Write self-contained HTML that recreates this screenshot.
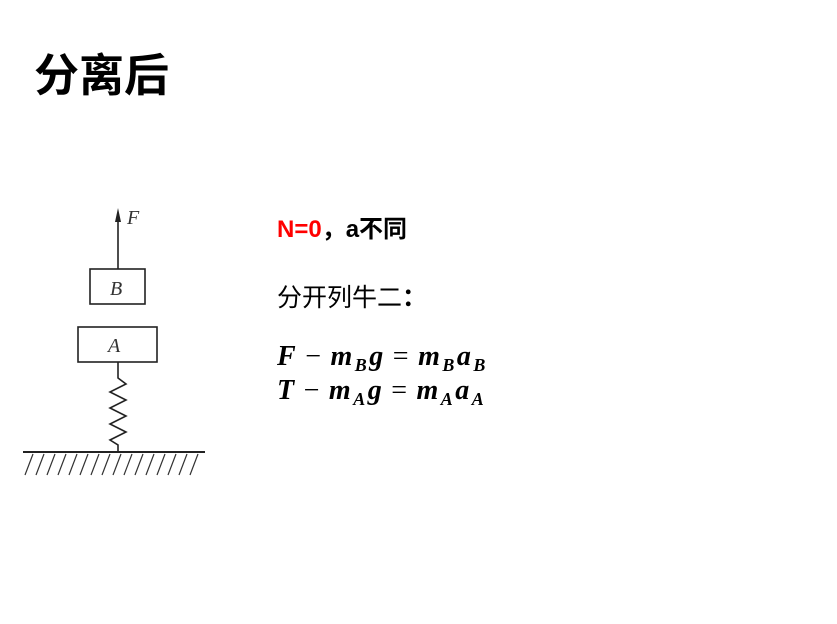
<!DOCTYPE html>
<html><head><meta charset="utf-8"><style>
body{margin:0;width:837px;height:624px;background:#fff;position:relative;overflow:hidden;font-family:"Liberation Sans","Noto Sans CJK SC",sans-serif}
.t{position:absolute;white-space:nowrap;color:#000}
.eq{font-family:"Liberation Serif","DejaVu Serif",serif;font-weight:bold;font-style:italic;font-size:28px;letter-spacing:2.5px}
.eq sub{font-size:18px;vertical-align:-6px}
.eq .n{font-style:normal;font-weight:normal;padding:0 7px}
</style></head><body>
<div class="t" style="left:34px;top:39px;font-size:45px;font-weight:bold;font-family:'Noto Sans CJK SC',sans-serif">分离后</div>
<svg style="position:absolute;left:0;top:0" width="837" height="624">
<g stroke="#222" fill="none" stroke-width="1.6">
<line x1="118" y1="269" x2="118" y2="216"/>
<rect x="90" y="269" width="55" height="35"/>
<rect x="78" y="327" width="79" height="35"/>
<polyline points="118,362 118,378 126,384 110,392 126,400 110,408 126,416 110,424 126,432 110,440 118,445 118,452"/>
<line x1="23" y1="452" x2="205" y2="452" stroke-width="2"/>
</g>
<polygon points="118,208 115,222 121,222" fill="#222"/>
<g font-family="Liberation Serif,serif" font-style="italic" font-size="20" fill="#333">
<text x="127" y="224">F</text><text x="110" y="295">B</text><text x="108" y="352">A</text>
</g>
<g stroke="#333" stroke-width="1.2">
<line x1="33" y1="454" x2="25" y2="475"/><line x1="44" y1="454" x2="36" y2="475"/><line x1="55" y1="454" x2="47" y2="475"/><line x1="66" y1="454" x2="58" y2="475"/><line x1="77" y1="454" x2="69" y2="475"/><line x1="88" y1="454" x2="80" y2="475"/><line x1="99" y1="454" x2="91" y2="475"/><line x1="110" y1="454" x2="102" y2="475"/><line x1="121" y1="454" x2="113" y2="475"/><line x1="132" y1="454" x2="124" y2="475"/><line x1="143" y1="454" x2="135" y2="475"/><line x1="154" y1="454" x2="146" y2="475"/><line x1="165" y1="454" x2="157" y2="475"/><line x1="176" y1="454" x2="168" y2="475"/><line x1="187" y1="454" x2="179" y2="475"/><line x1="198" y1="454" x2="190" y2="475"/>
</g></svg>
<div class="t" style="left:277px;top:209px;font-size:24px;font-weight:bold"><span style="color:#f00">N=0</span>，a不同</div>
<div class="t" style="left:277px;top:278px;font-size:25px">分开列牛二<b>：</b></div>
<div class="t eq" style="left:277px;top:341px">F<span class="n">−</span>m<sub>B</sub>g<span class="n">=</span>m<sub>B</sub>a<sub>B</sub></div>
<div class="t eq" style="left:277px;top:375px">T<span class="n">−</span>m<sub>A</sub>g<span class="n">=</span>m<sub>A</sub>a<sub>A</sub></div>
</body></html>
